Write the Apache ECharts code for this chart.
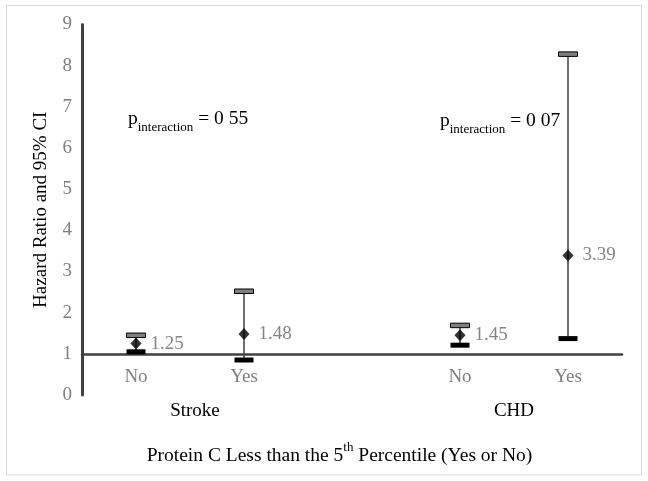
<!DOCTYPE html>
<html>
<head>
<meta charset="utf-8">
<script src="https://cdn.jsdelivr.net/npm/echarts@6/dist/echarts.min.js"></script>
<style>
html,body{margin:0;padding:0;background:#fff;}
#c{width:648px;height:481px;}
</style>
</head>
<body>
<div id="c"></div>
<script>
// ---- data ----
const categories = ['No', 'Yes', '', 'No', 'Yes'];
const groups = ['Stroke', 'CHD'];
const groupSlots = ['', 'Stroke', '', '', 'CHD', ''];
const hazardRatio = [1.25, 1.48, null, 1.45, 3.39];
const ciLower = [1.05, 0.85, null, 1.21, 1.37];
const ciUpper = [1.45, 2.52, null, 1.69, 8.28];
const yMin = 0, yMax = 9, yStep = 1;
const pInteraction = ['0 55', '0 07'];
const yAxisTitle = 'Hazard Ratio and 95% CI';

// ---- layout ----
const FONT = 'Liberation Serif';
const W = 648, H = 481;
const gTop = 24.5, gBottom = 86, gLeft = 82, gRight = 26;
const unitPx = (H - gTop - gBottom) / (yMax - yMin);

const errData = [];
const ptData = [];
hazardRatio.forEach((v, i) => {
  if (v == null) return;
  errData.push([i, ciLower[i], ciUpper[i]]);
  ptData.push([i, v]);
});

const chart = echarts.init(document.getElementById('c'), null, {renderer: 'canvas'});

const pRich = {
  p: {fontFamily: FONT, fontSize: 19.5, color: '#000', lineHeight: 30, verticalAlign: 'middle'},
  s: {fontFamily: FONT, fontSize: 13, color: '#000', lineHeight: 18, verticalAlign: 'bottom'},
  t: {fontFamily: FONT, fontSize: 19.5, color: '#000', lineHeight: 30, verticalAlign: 'middle'}
};

const option = {
  backgroundColor: '#fff',
  animation: false,
  grid: {left: gLeft, right: gRight, top: gTop, bottom: gBottom, containLabel: false},
  xAxis: [
    {
      type: 'category',
      data: categories,
      position: 'bottom',
      offset: -unitPx * (1 - yMin),
      axisLine: {show: true, lineStyle: {color: '#404040', width: 2.5}},
      axisTick: {show: false},
      axisLabel: {color: '#7f7f7f', fontFamily: FONT, fontSize: 19, margin: 14, interval: 0},
      splitLine: {show: false}
    },
    {
      type: 'category',
      data: groupSlots,
      boundaryGap: false,
      position: 'bottom',
      offset: 0,
      axisLine: {show: false},
      axisTick: {show: false},
      axisLabel: {
        color: '#000', fontFamily: FONT, fontSize: 19, margin: 7, interval: 0,
        formatter: v => v === groups[0] ? '{g|' + v + '}' : v,
        rich: {g: {color: '#000', fontFamily: FONT, fontSize: 19, padding: [0, 0, 0, 10]}}
      },
      splitLine: {show: false}
    }
  ],
  yAxis: {
    type: 'value',
    min: yMin, max: yMax, interval: yStep,
    axisLine: {show: true, lineStyle: {color: '#404040', width: 3}},
    axisTick: {show: false},
    splitLine: {show: false},
    axisLabel: {color: '#7f7f7f', fontFamily: FONT, fontSize: 19, margin: 10},
    name: yAxisTitle,
    nameLocation: 'middle',
    nameGap: 31,
    nameRotate: 90,
    nameTextStyle: {color: '#000', fontFamily: FONT, fontSize: 19}
  },
  series: [
    {
      type: 'custom',
      xAxisIndex: 0,
      data: errData,
      encode: {x: 0, y: [1, 2]},
      z: 2,
      renderItem: function (params, api) {
        const x = api.value(0), lo = api.value(1), hi = api.value(2);
        const pLo = api.coord([x, lo]);
        const pHi = api.coord([x, hi]);
        return {
          type: 'group',
          children: [
            {type: 'line', shape: {x1: pLo[0], y1: pLo[1], x2: pHi[0], y2: pHi[1]},
             style: {stroke: '#404040', lineWidth: 1.5}},
            {type: 'rect', shape: {x: pHi[0] - 9.5, y: pHi[1] - 2.25, width: 19, height: 4.5},
             style: {fill: '#7f7f7f', stroke: '#000', lineWidth: 1}},
            {type: 'rect', shape: {x: pLo[0] - 9.5, y: pLo[1] - 2.5, width: 19, height: 5},
             style: {fill: '#000'}}
          ]
        };
      }
    },
    {
      type: 'scatter',
      xAxisIndex: 0,
      data: ptData,
      symbol: 'diamond',
      symbolSize: [11, 12],
      itemStyle: {color: '#000'},
      z: 3,
      label: {
        show: true,
        position: 'right',
        distance: 9,
        color: '#666',
        fontFamily: FONT,
        fontSize: 19,
        formatter: p => p.value[1].toFixed(2)
      }
    }
  ],
  graphic: [
    {type: 'rect', shape: {x: 6.5, y: 5.5, width: 635, height: 469.5},
     style: {fill: 'none', stroke: '#d9d9d9', lineWidth: 1}, z: -1, silent: true},
    {type: 'text', x: 339.5, y: 456,
     style: {
       text: '{a|Protein C Less than the 5}{s|th}{a| Percentile (Yes or No)}',
       align: 'center', verticalAlign: 'middle',
       rich: {
         a: {fontFamily: FONT, fontSize: 19.5, color: '#000', lineHeight: 30, verticalAlign: 'middle'},
         s: {fontFamily: FONT, fontSize: 13, color: '#000', lineHeight: 20, verticalAlign: 'top'}
       }
     }},
    {type: 'text', x: 128, y: 119,
     style: {
       text: '{p|p}{s|interaction}{t| = ' + pInteraction[0] + '}',
       align: 'left', verticalAlign: 'middle', rich: pRich
     }},
    {type: 'text', x: 440, y: 121,
     style: {
       text: '{p|p}{s|interaction}{t| = ' + pInteraction[1] + '}',
       align: 'left', verticalAlign: 'middle', rich: pRich
     }}
  ]
};
chart.setOption(option);
</script>
</body>
</html>
